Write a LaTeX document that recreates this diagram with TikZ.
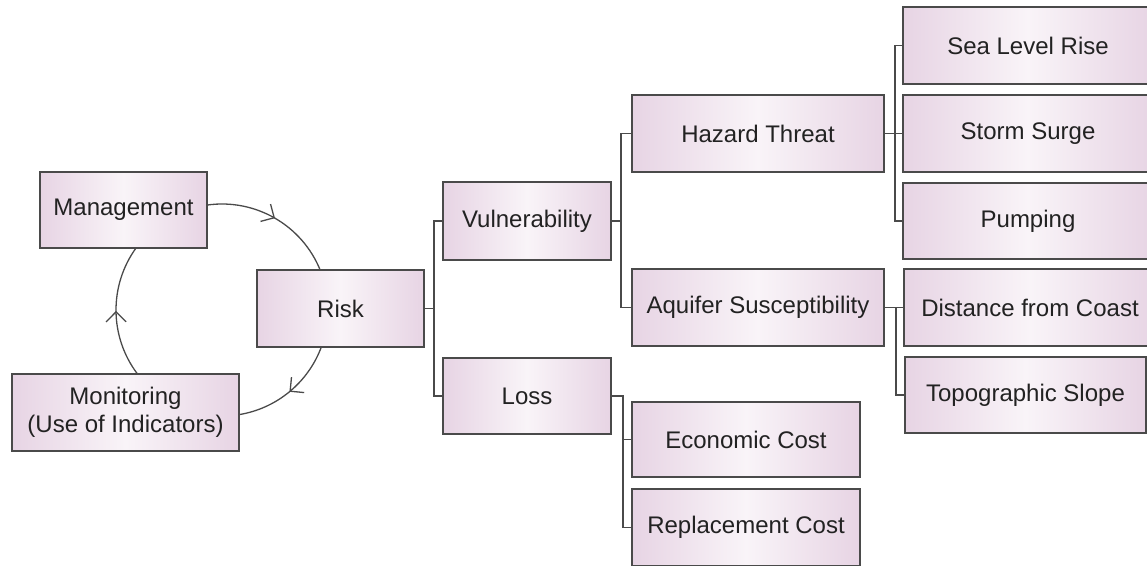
\documentclass[tikz,border=0pt]{standalone}
\usepackage{fontspec}
\setmainfont{Liberation Sans}
\usetikzlibrary{arrows.meta,decorations.markings,calc}
\definecolor{boxedge}{HTML}{E7D4E4}
\definecolor{boxmid}{HTML}{F9F4F8}
\definecolor{linegray}{HTML}{4A4A4A}
\definecolor{txt}{HTML}{222222}
\tikzset{
  box/.style={draw=linegray, line width=1.6pt, left color=boxedge, right color=boxedge,
    middle color=boxmid, text=txt, font=\fontsize{24}{28}\selectfont, inner sep=0pt, align=center},
  link/.style={draw=linegray, line width=1.5pt},
  cyc/.style={draw=linegray, line width=1.3pt, postaction={decorate},
    decoration={markings, mark=at position 0.5 with {\arrow{Straight Barb[length=10pt,width=20pt,line width=1.3pt]}}}},
}
\begin{document}
\begin{tikzpicture}[x=1pt,y=1pt,yscale=-1]
\useasboundingbox (0,0) rectangle (1147,565);
\clip (0,0) rectangle (1147,565);
% cycle boxes
\node[box, minimum width=167pt, minimum height=76pt] (mgmt) at (123.5,210) {Management};
\node[box, minimum width=167pt, minimum height=77pt] (risk) at (340.5,308.5) {Risk};
\node[box, minimum width=227pt, minimum height=77pt] (mon) at (125.5,412.5) {Monitoring\\(Use of Indicators)};
% level 1
\node[box, minimum width=168pt, minimum height=78pt] (vul) at (527,221) {Vulnerability};
\node[box, minimum width=168pt, minimum height=76pt] (loss) at (527,396) {Loss};
% level 2
\node[box, minimum width=252pt, minimum height=77pt] (haz) at (758,133.5) {Hazard Threat};
\node[box, minimum width=252pt, minimum height=77pt] (aqu) at (758,307.5) {Aquifer Susceptibility};
\node[box, minimum width=228pt, minimum height=75pt] (econ) at (746,439.5) {Economic Cost};
\node[box, minimum width=228pt, minimum height=77pt] (repl) at (746,527.5) {Replacement Cost};
% level 3
\node[box, minimum width=250pt, minimum height=77pt] (sea) at (1028,45.5) {Sea Level Rise};
\node[box, minimum width=250pt, minimum height=77pt] (storm) at (1028,133.5) {Storm Surge};
\node[box, minimum width=250pt, minimum height=76pt] (pump) at (1028,221) {Pumping};
\node[box, minimum width=252pt, minimum height=77pt] (dist) at (1030,307.5) {Distance from Coast};
\node[box, minimum width=241pt, minimum height=76pt] (topo) at (1025.5,395) {Topographic Slope};
% tree connectors
\draw[link] (risk.east) -- ++(9,0) coordinate (rj) |- (vul.west);
\draw[link] (rj) |- (loss.west);
\draw[link] (vul.east) -- ++(9,0) coordinate (vj) |- (haz.west);
\draw[link] (vj) |- (aqu.west);
\draw[link] (haz.east) -- ++(10,0) coordinate (hj) |- (sea.west);
\draw[link] (hj) |- (pump.west);
\draw[link] (hj) -- (storm.west);
\draw[link] (aqu.east) -- ++(11,0) coordinate (aj) |- (dist.west);
\draw[link] (aj) |- (topo.west);
\draw[link] (loss.east) -- ++(11,0) coordinate (lj) |- (econ.west);
\draw[link] (lj) |- (repl.west);
% cycle
\coordinate (cc) at (222,310);
\draw[cyc] ($(cc)+(-98:106)$) arc[start angle=-98, end angle=-22, radius=106];
\draw[cyc] ($(cc)+(20:106)$) arc[start angle=20, end angle=81, radius=106];
\draw[cyc] ($(cc)+(143:106)$) arc[start angle=143, end angle=216, radius=106];
\end{tikzpicture}
\end{document}
